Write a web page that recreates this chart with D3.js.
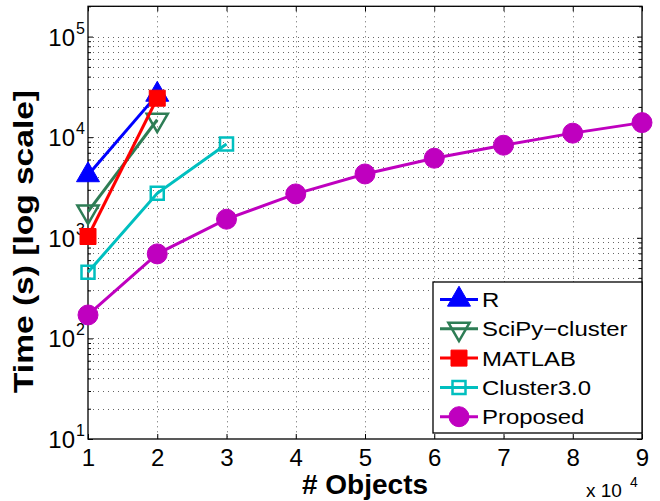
<!DOCTYPE html>
<html>
<head>
<meta charset="utf-8">
<script src="https://cdn.jsdelivr.net/npm/d3@7"></script>
<style>
  body { margin: 0; background: #fff; }
  text { font-family: "Liberation Sans", Arial, sans-serif; fill: #000; }
</style>
</head>
<body>
<svg id="chart" width="660" height="501"></svg>
<script>
// values (x in objects, y in seconds)
var objects = [10000, 20000, 30000, 40000, 50000, 60000, 70000, 80000, 90000];
var rTime = [4200, 26500];
var scipyTime = [1820, 14900];
var matlabTime = [1030, 24400];
var clusterTime = [455, 2770, 8570];
var proposedTime = [171, 692, 1530, 2730, 4310, 6180, 8320, 10970, 13960];
var seriesNames = ["R", "SciPy\u2212cluster", "MATLAB", "Cluster3.0", "Proposed"];
var xTicks = [10000, 20000, 30000, 40000, 50000, 60000, 70000, 80000, 90000];
var yDecades = [10, 100, 1000, 10000, 100000];

var box = {left: 88, right: 642, top: 6.3, bottom: 439};

var x = d3.scaleLinear().domain([10000, 90000]).range([box.left, box.right]);
var y = d3.scaleLog().domain([10, 200000]).range([box.bottom, box.top]);

var svg = d3.select("#chart");

// minor y values for grid
var yMinor = [];
yDecades.forEach(function (d) {
  for (var k = 2; k <= 9; k++) {
    if (d * k <= 200000) yMinor.push(d * k);
  }
});

var grid = svg.append("g").attr("stroke", "#666").attr("stroke-width", 1)
  .attr("stroke-dasharray", "1,4");

grid.selectAll(".gx").data(xTicks.slice(1, -1)).enter().append("line")
  .attr("x1", function (d) { return Math.round(x(d)) + 0.5; })
  .attr("x2", function (d) { return Math.round(x(d)) + 0.5; })
  .attr("y1", box.top).attr("y2", box.bottom);

grid.selectAll(".gy").data(yDecades.slice(1).concat(yMinor)).enter().append("line")
  .attr("y1", function (d) { return Math.round(y(d)) + 0.5; })
  .attr("y2", function (d) { return Math.round(y(d)) + 0.5; })
  .attr("x1", box.left).attr("x2", box.right);

// axes, ticks pointing inward (matlab style)
var xb = svg.append("g").attr("transform", "translate(0," + box.bottom + ")")
  .call(d3.axisBottom(x).tickValues(xTicks).tickSize(-5).tickPadding(10)
    .tickFormat(function (d) { return d / 10000; }));
var xt = svg.append("g").attr("transform", "translate(0," + box.top + ")")
  .call(d3.axisTop(x).tickValues(xTicks).tickSize(-5).tickFormat(""));
var yl = svg.append("g").attr("transform", "translate(" + box.left + ",0)")
  .call(d3.axisLeft(y).tickValues(yDecades).tickSize(-5).tickFormat(""));
var yr = svg.append("g").attr("transform", "translate(" + box.right + ",0)")
  .call(d3.axisRight(y).tickValues(yDecades).tickSize(-5).tickFormat(""));
var ylm = svg.append("g").attr("transform", "translate(" + box.left + ",0)")
  .call(d3.axisLeft(y).tickValues(yMinor).tickSize(-3).tickFormat(""));
var yrm = svg.append("g").attr("transform", "translate(" + box.right + ",0)")
  .call(d3.axisRight(y).tickValues(yMinor).tickSize(-3).tickFormat(""));

[xb, xt, yl, yr, ylm, yrm].forEach(function (g) {
  g.select(".domain").remove();
  g.selectAll("line").attr("stroke", "#000");
});
xb.selectAll("text").style("font-size", "24px").attr("fill", "#000")
  .style("font-family", "Liberation Sans, Arial, sans-serif");

// box
svg.append("rect").attr("x", box.left).attr("y", box.top)
  .attr("width", box.right - box.left).attr("height", box.bottom - box.top)
  .attr("fill", "none").attr("stroke", "#000").attr("stroke-width", 1.3);

// y tick labels 10^n
var yLab = svg.append("g");
yDecades.forEach(function (d) {
  var yy = y(d);
  yLab.append("text").attr("x", 75).attr("y", yy + 9)
    .attr("text-anchor", "end").style("font-size", "24px").text("10");
  yLab.append("text").attr("x", 76).attr("y", yy - 3)
    .style("font-size", "16px").text(Math.round(Math.log10(d)));
});

// x multiplier
svg.append("text").attr("x", 586).attr("y", 497).style("font-size", "19px").text("x 10");
svg.append("text").attr("x", 630).attr("y", 487).style("font-size", "14px").text("4");

// axis titles
svg.append("text").attr("x", 365).attr("y", 494).attr("text-anchor", "middle")
  .style("font-size", "28px").style("font-weight", "bold").text("# Objects");
svg.append("text")
  .attr("transform", "translate(33," + 241.5 + ") rotate(-90)")
  .attr("text-anchor", "middle")
  .attr("textLength", 303).attr("lengthAdjust", "spacingAndGlyphs")
  .style("font-size", "28px").style("font-weight", "bold")
  .text("Time (s) [log scale]");

// series
var series = [
  {name: seriesNames[0], values: rTime, color: "#0000ff", symbol: d3.symbolTriangle, size: 229, fill: true, rot: 0},
  {name: seriesNames[1], values: scipyTime, color: "#2e7d55", symbol: d3.symbolTriangle, size: 195, fill: false, rot: 180},
  {name: seriesNames[2], values: matlabTime, color: "#ff0000", symbol: d3.symbolSquare, size: 256, fill: true, rot: 0},
  {name: seriesNames[3], values: clusterTime, color: "#00bfbf", symbol: d3.symbolSquare, size: 169, fill: false, rot: 0},
  {name: seriesNames[4], values: proposedTime, color: "#bf00bf", symbol: d3.symbolCircle, size: 314, fill: true, rot: 0}
];

var line = d3.line()
  .x(function (d, i) { return x(objects[i]); })
  .y(function (d) { return y(d); });

function drawMarker(g, s, cx, cy) {
  g.append("path")
    .attr("d", d3.symbol().type(s.symbol).size(s.size)())
    .attr("transform", "translate(" + cx + "," + cy + ") rotate(" + s.rot + ")")
    .attr("fill", s.fill ? s.color : "none")
    .attr("stroke", s.color)
    .attr("stroke-width", s.fill ? 1 : 2.5);
}

series.forEach(function (s) {
  var g = svg.append("g");
  g.append("path").datum(s.values).attr("d", line)
    .attr("fill", "none").attr("stroke", s.color).attr("stroke-width", 3);
  s.values.forEach(function (v, i) {
    drawMarker(g, s, x(objects[i]), y(v));
  });
});

// legend
var lg = svg.append("g");
lg.append("rect").attr("x", 433).attr("y", 282).attr("width", 209).attr("height", 151)
  .attr("fill", "#fff").attr("stroke", "#000").attr("stroke-width", 1.3);
series.forEach(function (s, i) {
  var ly = 299.5 + i * 29.3;
  lg.append("line").attr("x1", 440).attr("x2", 478).attr("y1", ly).attr("y2", ly)
    .attr("stroke", s.color).attr("stroke-width", 3);
  drawMarker(lg, s, 459, ly);
  lg.append("text").attr("transform", "translate(482," + (ly + 7.5) + ") scale(1.14,1)")
    .style("font-size", "21px").text(s.name);
});
</script>
</body>
</html>
